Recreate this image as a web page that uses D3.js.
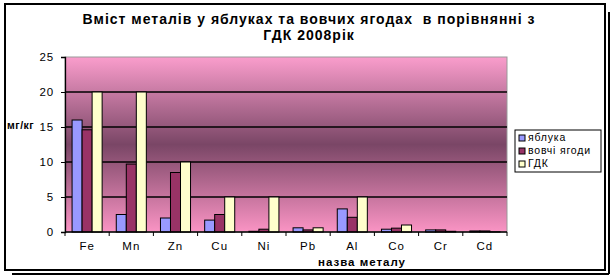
<!DOCTYPE html>
<html>
<head>
<meta charset="utf-8">
<script src="https://cdn.jsdelivr.net/npm/d3@7"></script>
<style>
  body { margin: 0; background: #fff; }
  text { font-family: "Liberation Sans", Arial, sans-serif; white-space: pre; }
</style>
</head>
<body>
<div id="plot"></div>
<script>
var metals = ['Fe', 'Mn', 'Zn', 'Cu', 'Ni', 'Pb', 'Al', 'Co', 'Cr', 'Cd'];
var apples = [16, 2.5, 2, 1.7, 0.1, 0.6, 3.3, 0.4, 0.3, 0.15];
var berries = [14.6, 9.7, 8.5, 2.5, 0.4, 0.3, 2.1, 0.55, 0.3, 0.15];
var gdk = [20, 20, 10, 5, 5, 0.6, 5, 1, 0.1, 0.03];
var seriesNames = ['яблука', 'вовчі ягоди', 'ГДК'];
var yTicks = [0, 5, 10, 15, 20, 25];

var colors = ['#9999ff', '#993366', '#ffffcc'];
var series = [apples, berries, gdk];

var svg = d3.select("#plot")
  .append("svg")
  .attr("width", 616)
  .attr("height", 277);

// frame with shadow
svg.append("line").attr("x1", 609).attr("x2", 609).attr("y1", 12).attr("y2", 274)
  .style("stroke", "black").style("stroke-width", 2);
svg.append("line").attr("x1", 12).attr("x2", 609).attr("y1", 274).attr("y2", 274)
  .style("stroke", "black").style("stroke-width", 2);
svg.append("rect").attr("x", 5).attr("y", 4).attr("width", 600).attr("height", 266)
  .style("fill", "white").style("stroke", "black").style("stroke-width", 2);

var margin = { top: 57, left: 65 };
var width = 442, height = 175;

var g = svg.append("g")
  .attr("transform", `translate(${margin.left}, ${margin.top})`);

var defs = svg.append("defs");
var grad = defs.append("linearGradient")
  .attr("id", "bg").attr("x1", 0).attr("x2", 0).attr("y1", 0).attr("y2", 1);
grad.append("stop").attr("offset", "0%").attr("stop-color", "#fa9dcc");
grad.append("stop").attr("offset", "50%").attr("stop-color", "#7a4666");
grad.append("stop").attr("offset", "100%").attr("stop-color", "#fa94c4");

g.append("rect")
  .attr("width", width).attr("height", height)
  .style("fill", "url(#bg)")
  .style("stroke", "#999").style("stroke-width", 1);

var x = d3.scaleBand()
  .domain(metals)
  .range([0, width])
  .paddingInner(0.32)
  .paddingOuter(0.16);

var xs = d3.scaleBand()
  .domain(d3.range(series.length))
  .range([0, x.bandwidth()]);

var y = d3.scaleLinear()
  .domain([0, 25])
  .range([height, 0]);

// grid
g.selectAll("line.grid")
  .data(yTicks.filter(d => d > 0 && d < 25))
  .enter()
  .append("line")
  .attr("class", "grid")
  .attr("x1", 0).attr("x2", width)
  .attr("y1", d => y(d)).attr("y2", d => y(d))
  .style("stroke", "black").style("stroke-width", 1.3);

// bars
series.forEach(function(vals, s) {
  g.selectAll("rect.s" + s)
    .data(vals)
    .enter()
    .append("rect")
    .attr("class", "s" + s)
    .attr("x", (d, i) => x(metals[i]) + xs(s))
    .attr("y", d => y(d))
    .attr("width", xs.bandwidth())
    .attr("height", d => height - y(d))
    .style("fill", colors[s])
    .style("stroke", "black")
    .style("stroke-width", 1);
});

// y axis
var yAxis = g.append("g")
  .call(d3.axisLeft(y).tickValues(yTicks).tickSize(4).tickPadding(7));
yAxis.select(".domain").style("stroke-width", 1.3);
yAxis.selectAll("text").style("font-size", "11.5px").style("letter-spacing", "0.8px").style("fill", "black");

// x axis with ticks between categories
var xAxis = g.append("g")
  .attr("transform", `translate(0, ${height})`);
xAxis.append("line").attr("x1", 0).attr("x2", width)
  .style("stroke", "black").style("stroke-width", 1.3);
var step = width / metals.length;
xAxis.selectAll("line.tick")
  .data(d3.range(metals.length + 1))
  .enter()
  .append("line")
  .attr("x1", d => d * step).attr("x2", d => d * step)
  .attr("y1", 0).attr("y2", 4)
  .style("stroke", "black");
xAxis.selectAll("text")
  .data(metals)
  .enter()
  .append("text")
  .attr("x", d => x(d) + x.bandwidth() / 2)
  .attr("y", 18)
  .style("text-anchor", "middle")
  .style("font-size", "11.5px")
  .style("letter-spacing", "1px")
  .text(d => d);

// titles
svg.append("text")
  .attr("x", 309).attr("y", 24)
  .style("text-anchor", "middle").style("font-weight", "bold").style("font-size", "14px")
  .style("letter-spacing", "1px")
  .text("Вміст металів у яблуках та вовчих ягодах  в порівнянні з");
svg.append("text")
  .attr("x", 309).attr("y", 40)
  .style("text-anchor", "middle").style("font-weight", "bold").style("font-size", "14px")
  .style("letter-spacing", "1px")
  .text("ГДК 2008рік");
svg.append("text")
  .attr("x", 7).attr("y", 129)
  .style("font-weight", "bold").style("font-size", "10.5px")
  .style("letter-spacing", "0.5px")
  .text("мг/кг");
svg.append("text")
  .attr("x", 362).attr("y", 266)
  .style("text-anchor", "middle").style("font-weight", "bold").style("font-size", "11.5px")
  .style("letter-spacing", "1px")
  .text("назва металу");

// legend
var legend = svg.append("g").attr("transform", "translate(515, 130)");
legend.append("rect").attr("width", 86).attr("height", 42)
  .style("fill", "white").style("stroke", "black").style("stroke-width", 1);
seriesNames.forEach(function(name, i) {
  legend.append("rect")
    .attr("x", 4).attr("y", 5 + i * 13)
    .attr("width", 6).attr("height", 6)
    .style("fill", colors[i]).style("stroke", "black").style("stroke-width", 1);
  legend.append("text")
    .attr("x", 13).attr("y", 11 + i * 13)
    .style("font-size", "10.5px")
    .style("letter-spacing", "0.8px")
    .text(name);
});
</script>
</body>
</html>
